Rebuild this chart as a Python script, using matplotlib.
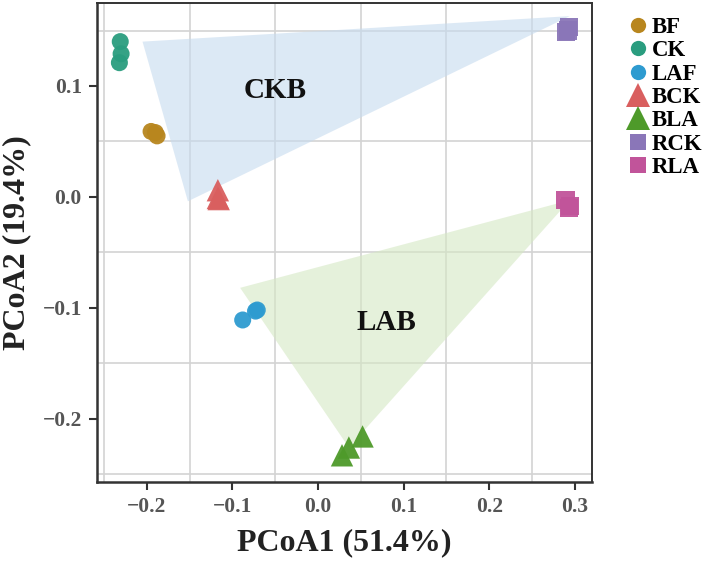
import matplotlib
matplotlib.use("Agg")
import matplotlib.pyplot as plt
from matplotlib.lines import Line2D
from matplotlib.patches import Polygon
import numpy as np

plt.rcParams['font.family'] = ['Liberation Serif', 'DejaVu Serif']
plt.rcParams['font.weight'] = 'bold'

# ---------------------------------------------------------
# data
# ---------------------------------------------------------
groups = ["BF", "CK", "LAF", "BCK", "BLA", "RCK", "RLA"]
markers = ["o", "o", "o", "^", "^", "s", "s"]
colors = ["#B8861E", "#2A9D7F", "#2E9BD0", "#D95F5F", "#4E9A2A", "#8A76B8", "#C1549A"]

bf_x = [-0.195, -0.190, -0.188]
bf_y = [0.059, 0.058, 0.055]
ck_x = [-0.231, -0.230, -0.232]
ck_y = [0.140, 0.129, 0.121]
laf_x = [-0.088, -0.073, -0.071]
laf_y = [-0.111, -0.103, -0.102]
bck_x = [-0.117, -0.117, -0.116]
bck_y = [0.006, -0.001, -0.002]
bla_x = [0.028, 0.036, 0.052]
bla_y = [-0.233, -0.226, -0.216]
rck_x = [0.290, 0.293, 0.292]
rck_y = [0.149, 0.153, 0.150]
rla_x = [0.289, 0.293, 0.294]
rla_y = [-0.003, -0.010, -0.008]

xs = [bf_x, ck_x, laf_x, bck_x, bla_x, rck_x, rla_x]
ys = [bf_y, ck_y, laf_y, bck_y, bla_y, rck_y, rla_y]

# shaded triangles
ckb_x = [-0.205, -0.152, 0.294]
ckb_y = [0.140, -0.004, 0.163]
lab_x = [-0.091, 0.036, 0.294]
lab_y = [-0.082, -0.226, -0.003]

x_ticks = [-0.2, -0.1, 0.0, 0.1, 0.2, 0.3]
y_ticks = [-0.2, -0.1, 0.0, 0.1]
x_grid = [-0.25, -0.15, -0.05, 0.05, 0.15, 0.25]
y_grid = [-0.25, -0.15, -0.05, 0.05, 0.15]

# ---------------------------------------------------------
# plot
# ---------------------------------------------------------
fig = plt.figure(figsize=(7.09, 5.61), dpi=100)
ax = fig.add_axes([0.137, 0.141, 0.698, 0.854])

for g in x_grid:
    ax.axvline(g, color="#D3D3D3", lw=1.2, zorder=0)
for g in y_grid:
    ax.axhline(g, color="#D3D3D3", lw=1.2, zorder=0)

ax.add_patch(Polygon(np.column_stack([ckb_x, ckb_y]), closed=True,
                     facecolor="#C6DBEF", alpha=0.6, edgecolor="none", zorder=1))
ax.add_patch(Polygon(np.column_stack([lab_x, lab_y]), closed=True,
                     facecolor="#D5E8C4", alpha=0.6, edgecolor="none", zorder=1))

sizes = {"o": 150, "^": 260, "s": 170}
for g, m, c, x, y in zip(groups, markers, colors, xs, ys):
    ax.scatter(x, y, marker=m, s=sizes[m], color=c, alpha=0.95,
               edgecolors="none", zorder=3)

ax.text(-0.05, 0.096, "CKB", fontsize=21, fontweight="bold", ha="center",
        va="center", color="#111111", zorder=4)
ax.text(0.08, -0.113, "LAB", fontsize=21, fontweight="bold", ha="center",
        va="center", color="#111111", zorder=4)

ax.set_xlim(-0.258, 0.320)
ax.set_ylim(-0.257, 0.175)
ax.set_xticks(x_ticks)
ax.set_yticks(y_ticks)
ax.set_xticklabels([f"{v:.1f}".replace("-", "\u2212") for v in x_ticks])
ax.set_yticklabels([f"{v:.1f}".replace("-", "\u2212") for v in y_ticks])
ax.tick_params(direction="out", length=6, width=1.5, colors="#333333",
               labelsize=15.5, labelcolor="#555555", pad=5)
for lab in ax.get_xticklabels() + ax.get_yticklabels():
    lab.set_fontweight("bold")

for side in ["left", "bottom"]:
    ax.spines[side].set_linewidth(1.8)
    ax.spines[side].set_color("#333333")
for side in ["top", "right"]:
    ax.spines[side].set_linewidth(1.4)
    ax.spines[side].set_color("#333333")

ax.set_xlabel("PCoA1 (51.4%)", fontsize=23, fontweight="bold", color="#222222", labelpad=8)
ax.set_ylabel("PCoA2 (19.4%)", fontsize=23, fontweight="bold", color="#222222", labelpad=8)

leg_ms = {"o": 11, "^": 17, "s": 12}
handles = [Line2D([], [], marker=m, color=c, linestyle="none", markersize=leg_ms[m],
                  markeredgewidth=0)
           for m, c in zip(markers, colors)]
fig.legend(handles, groups, loc="upper left", bbox_to_anchor=(0.868, 0.99),
           frameon=False, handletextpad=0.1, labelspacing=0.1,
           handlelength=1.0, borderpad=0, prop={"weight": "bold", "size": 16.5})

fig.savefig("out.png", dpi=100)
